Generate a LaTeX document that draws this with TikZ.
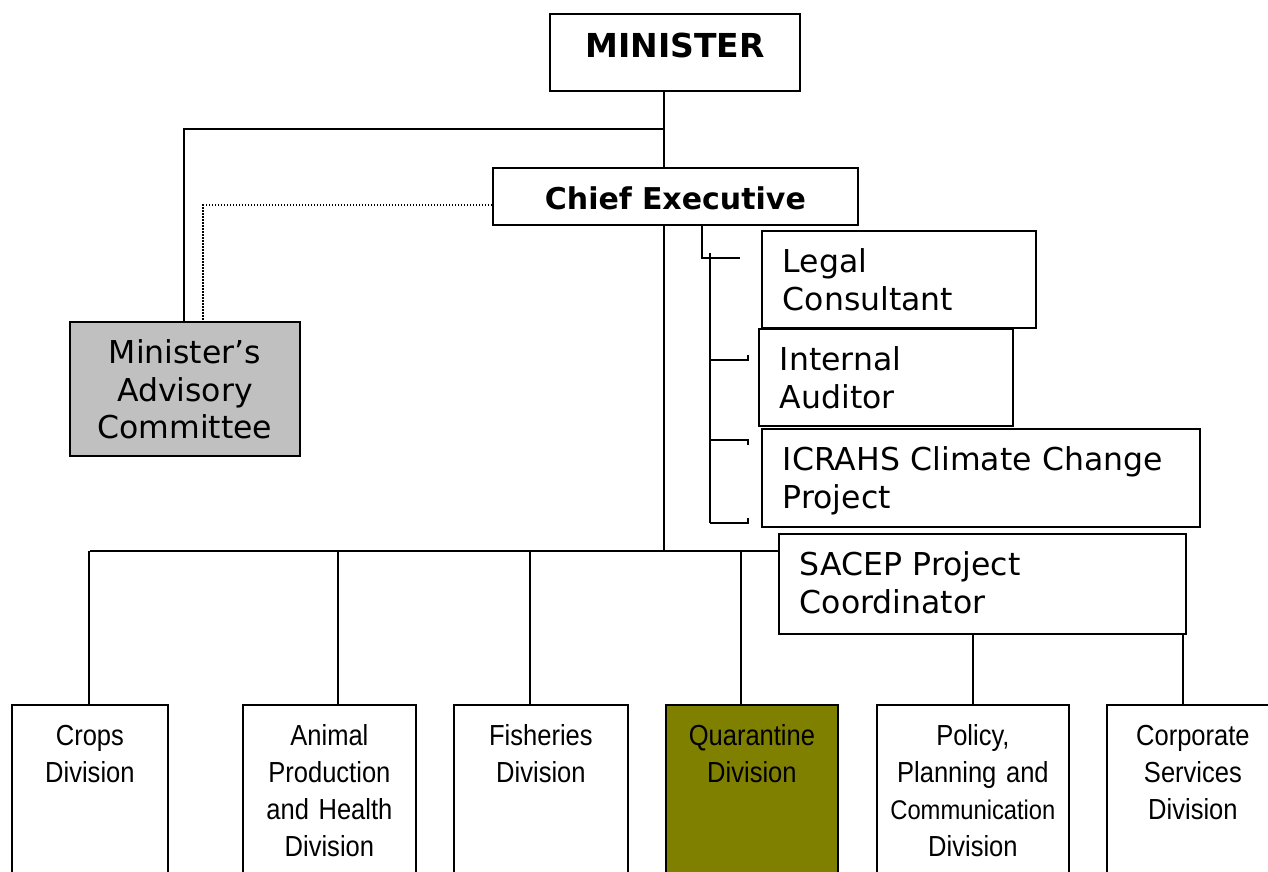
\documentclass[tikz,border=0pt]{standalone}
\usepackage{fontspec}
\newfontfamily\verdfont{DejaVu Sans}
\newfontfamily\narfont[FakeStretch=0.88,WordSpace=0.8]{Liberation Sans}
\definecolor{advgray}{RGB}{192,192,192}
\definecolor{quarolive}{RGB}{128,128,0}
\tikzset{
  box/.style={draw, line width=1.8pt, fill=white, inner sep=0pt, anchor=north west},
  topbox/.style={box, align=center},
  sidebox/.style={box, align=left, inner xsep=21pt, font=\verdfont\fontsize{31.5}{37.5}\selectfont},
  divbox/.style={box, align=center, text height=41pt, text depth=160pt, font=\narfont\fontsize{29}{37}\selectfont},
  link/.style={line width=1.5pt},
  dotlink/.style={line width=1.2pt, dash pattern=on 1.5pt off 1.5pt}
}
\begin{document}
\begin{tikzpicture}[x=1pt,y=-1pt]
  \useasboundingbox (0,0) rectangle (1268,872);
  \clip (0,0) rectangle (1268,872);
  % top of the chart
  \node[topbox, text width=250pt, text height=44pt, text depth=33pt,
        font=\verdfont\bfseries\fontsize{33}{40}\selectfont] (minister) at (549,13) {MINISTER};
  \node[topbox, text width=365pt, text height=42pt, text depth=15pt,
        font=\verdfont\bfseries\fontsize{30}{36}\selectfont] (chief) at (492,167) {Chief Executive};
  \node[box, fill=advgray, align=center, text width=230pt, text height=42pt, text depth=92pt,
        font=\verdfont\fontsize{31.5}{37.5}\selectfont] (advisory) at (69,321) {Minister’s\\Advisory\\Committee};
  % staff boxes
  \node[sidebox, text width=232pt, text height=42pt, text depth=55pt] (legal) at (761,230) {Legal\\Consultant};
  \node[sidebox, text width=212pt, text height=42pt, text depth=55pt] (auditor) at (758,328) {Internal\\Auditor};
  \node[sidebox, text width=396pt, text height=42pt, text depth=56pt] (icrahs) at (761,428) {ICRAHS Climate Change\\Project};
  \node[sidebox, text width=365pt, text height=42pt, text depth=58pt] (sacep) at (778,533) {SACEP Project\\Coordinator};
  % divisions
  \node[divbox, text width=156pt] (crops) at (11,704) {Crops\\Division};
  \node[divbox, text width=173pt] (animal) at (242,704) {Animal\\Production\\and Health\\Division};
  \node[divbox, text width=174pt] (fisheries) at (453,704) {Fisheries\\Division};
  \node[divbox, text width=172pt, fill=quarolive] (quarantine) at (665,704) {Quarantine\\Division};
  \node[divbox, text width=192pt] (policy) at (876,704) {Policy,\\Planning and\\{\fontsize{27}{37}\selectfont Communication}\\Division};
  \node[divbox, text width=172pt] (corporate) at (1106,704) {Corporate\\Services\\Division};
  % connectors
  \coordinate (trunk) at (664,551);
  \coordinate (mcbend) at (184,129);
  \coordinate (dotbend) at (203,205);
  \coordinate (legalbend) at (702,258);
  \coordinate (legalend) at (740,258);
  \coordinate (brtop) at (710,253);
  \coordinate (brbot) at (710,523);
  \draw[link] (minister.south -| trunk) -- (chief.north -| trunk);
  \draw[link] (chief.south -| trunk) -- (trunk);
  \draw[link] (trunk |- mcbend) -- (mcbend) -- (advisory.north -| mcbend);
  \draw[dotlink] (chief.west |- dotbend) -- (dotbend) -- (advisory.north -| dotbend);
  \draw[link] (chief.south -| legalbend) -- (legalbend) -- (legalend);
  \draw[link] (brtop) -- (brbot);
  \foreach \y/\h in {360/-5, 440/5, 523/-5}
    \draw[link] (710,\y) -- ++(38,0) -- ++(0,\h);
  \draw[link] (crops.north |- trunk) -- (sacep.west |- trunk);
  \foreach \n/\x in {crops/89, animal/338, fisheries/530, quarantine/741}
    \draw[link] (trunk -| \x,0) -- (\n.north -| \x,0);
  \draw[link] (sacep.south -| policy.north) -- (policy.north);
  \draw[link] (sacep.south -| 1183,0) -- (corporate.north -| 1183,0);
\end{tikzpicture}
\end{document}
